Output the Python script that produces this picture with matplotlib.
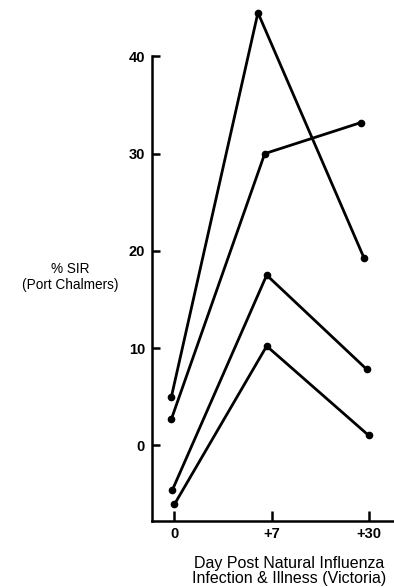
import matplotlib.pyplot as plt

# days after natural influenza infection (categorical axis)
day_labels = ['0', '+7', '+30']
day_ticks = [0, 1, 2]

# x positions of the hand-plotted points (slightly off the ticks in the original)
x_a = [-0.03, 0.86, 1.95]
x_b = [-0.03, 0.93, 1.92]
x_c = [-0.02, 0.95, 1.98]
x_d = [0.00, 0.95, 2.00]

# % SIR (Port Chalmers) for each subject
sir_a = [5.0, 44.5, 19.3]
sir_b = [2.7, 30.0, 33.2]
sir_c = [-4.6, 17.5, 7.8]
sir_d = [-6.1, 10.2, 1.0]

y_ticks = [0, 10, 20, 30, 40]

fig = plt.figure(figsize=(3.94, 5.87), dpi=100)
ax = fig.add_axes([152 / 394, (587 - 521) / 587, 242 / 394, 518 / 587])

for xs, ys in [(x_a, sir_a), (x_b, sir_b), (x_c, sir_c), (x_d, sir_d)]:
    ax.plot(xs, ys, '-o', color='black', lw=2.0, ms=4.5, clip_on=False)

ax.set_xlim(-0.23, 2.26)
ax.set_ylim(-7.8, 45.5)

ax.spines['top'].set_visible(False)
ax.spines['right'].set_visible(False)
ax.spines['left'].set_bounds(-7.8, 40)
ax.spines['left'].set_linewidth(1.8)
ax.spines['bottom'].set_linewidth(1.8)

ax.set_xticks(day_ticks)
ax.set_xticklabels(day_labels)
ax.set_yticks(y_ticks)
ax.tick_params(axis='both', direction='in', width=1.8, labelsize=10.5)
ax.tick_params(axis='y', length=6, pad=5)
ax.tick_params(axis='x', length=7, pad=4)
for lab in ax.get_xticklabels() + ax.get_yticklabels():
    lab.set_fontweight('bold')
    lab.set_family('Liberation Sans')

fig.text(70 / 394, 1 - 277 / 587, '% SIR\n(Port Chalmers)', ha='center', va='center',
         fontsize=9.8, family='Liberation Sans', linespacing=1.25)
fig.text(289 / 394, 1 - 571 / 587, 'Day Post Natural Influenza\nInfection & Illness (Victoria)',
         ha='center', va='center', fontsize=11.5, family='Liberation Sans', linespacing=1.05)

fig.savefig('out.png', dpi=100)
